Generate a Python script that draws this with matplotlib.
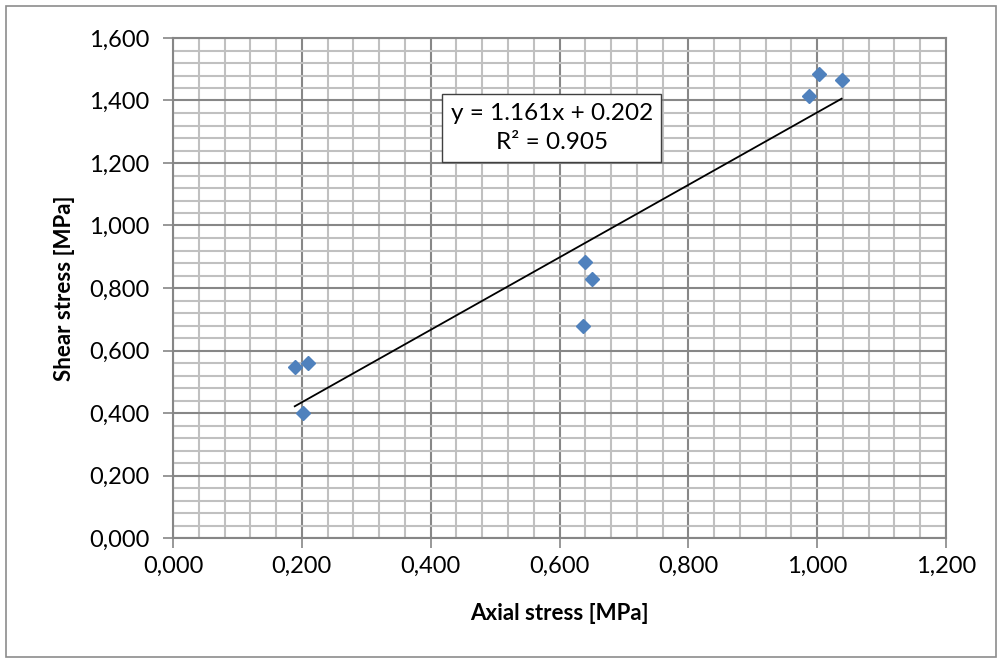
import numpy as np
import matplotlib
matplotlib.use("Agg")
import matplotlib.pyplot as plt
from matplotlib.ticker import MultipleLocator, FuncFormatter
from matplotlib.patches import Rectangle

# values
axial = [0.189, 0.209, 0.202, 0.640, 0.650, 0.637, 0.988, 1.003, 1.038]
shear = [0.547, 0.560, 0.400, 0.883, 0.829, 0.678, 1.415, 1.485, 1.466]
eq_text = "y = 1.161x + 0.202\nR² = 0.905"

BLUE, MAJ, MIN, EDGE = "#4F81BD", "#878787", "#C0C0C0", "#868686"
plt.rcParams.update({"font.family": ["Lato", "DejaVu Sans"], "text.color": "black"})

fig = plt.figure(figsize=(10.02, 6.63), dpi=100)
ax = fig.add_axes([173/1002, 1 - 538/663, (946-173)/1002, (538-38)/663])

fig.patches.append(Rectangle((6/1002, 6/663), 990/1002, 651/663, transform=fig.transFigure,
                             fill=False, edgecolor="#8C8C8C", lw=1.2))

ax.xaxis.set_major_locator(MultipleLocator(0.2)); ax.xaxis.set_minor_locator(MultipleLocator(0.04))
ax.yaxis.set_major_locator(MultipleLocator(0.2)); ax.yaxis.set_minor_locator(MultipleLocator(0.04))
fmt = FuncFormatter(lambda v, p: f"{v:.3f}".replace(".", ","))
ax.xaxis.set_major_formatter(fmt); ax.yaxis.set_major_formatter(fmt)
ax.set_xlim(0, 1.2); ax.set_ylim(0, 1.6)
ax.grid(True, which="minor", color=MIN, lw=1.5, zorder=0)
ax.grid(True, which="major", color=MAJ, lw=1.5, zorder=0)
ax.set_axisbelow(True)
for s in ax.spines.values(): s.set_color(EDGE); s.set_linewidth(1.5)
ax.tick_params(which="major", length=7, width=1.2, color=EDGE, labelsize=17)
ax.tick_params(axis="x", pad=6)
ax.tick_params(axis="y", pad=10)
ax.tick_params(which="minor", length=0)

ax.plot(axial, shear, "D", color=BLUE, ms=7.5, zorder=3, clip_on=False)
k, b = np.polyfit(axial, shear, 1)
xs = np.array([min(axial), max(axial)])
ax.plot(xs, k*xs + b, color="black", lw=1.3, zorder=4)

ax.text(0.588, 1.312, eq_text, ha="center", va="center", fontsize=17.5, linespacing=1.5,
        bbox=dict(boxstyle="square,pad=0.35", fc="white", ec="#404040", lw=1.0), zorder=5)

ax.set_xlabel("Axial stress [MPa]", fontsize=16, weight="bold", va="center")
ax.set_ylabel("Shear stress [MPa]", fontsize=16, weight="bold", va="center")
ax.xaxis.set_label_coords(0.5, -0.152)
ax.yaxis.set_label_coords(-0.14, 0.5)

fig.savefig("out.png", dpi=100)
